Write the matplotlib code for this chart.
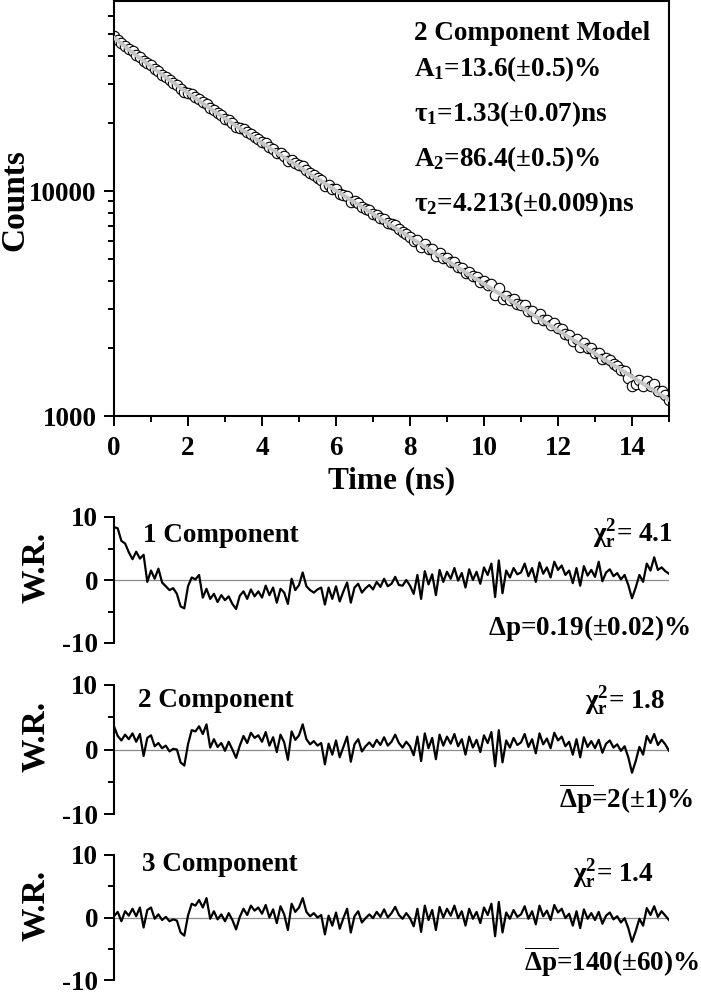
import numpy as np
import matplotlib
matplotlib.use("Agg")
import matplotlib.pyplot as plt
from matplotlib.ticker import FixedLocator, NullFormatter

plt.rcParams['font.family'] = ['Liberation Serif', 'DejaVu Serif']
plt.rcParams['font.weight'] = 'bold'
plt.rcParams['axes.labelweight'] = 'bold'
plt.rcParams['axes.unicode_minus'] = False
plt.rcParams['mathtext.fontset'] = 'custom'
plt.rcParams['mathtext.rm'] = 'Liberation Serif:bold'
plt.rcParams['mathtext.it'] = 'Liberation Serif:bold'
plt.rcParams['mathtext.bf'] = 'Liberation Serif:bold'

# time grid of the decay (ns)
time_ns = np.linspace(0.0, 15.0, 151)
fit_time = np.linspace(0.0, 15.0, 31)

# measured counts, one every 0.1 ns
counts = [
    48756, 47021, 45494, 44343, 42906, 41819, 40387, 39495, 37705, 37190,
    36194, 34903, 34044, 32971, 32142, 31109, 30352, 29530, 28410, 27565,
    27380, 27035, 26305, 25755, 24910, 24507, 23348, 22953, 22198, 21725,
    21003, 20680, 19998, 19320, 19098, 18826, 18219, 17984, 17441, 17067,
    16524, 16313, 15659, 15439, 14787, 14751, 14256, 13596, 13777, 13299,
    13058, 12938, 12379, 11996, 11763, 11409, 11179, 10570, 10643, 10218,
    10195, 9697, 9621, 9547, 8949, 8991, 8853, 8470, 8342, 8199,
    7942, 7852, 7598, 7522, 7236, 7116, 7040, 6770, 6554, 6471,
    6265, 6009, 6089, 5658, 5846, 5541, 5527, 5159, 5308, 5065,
    5046, 4852, 4841, 4600, 4565, 4302, 4382, 4171, 4150, 3933,
    4002, 3836, 3850, 3443, 3692, 3316, 3433, 3290, 3298, 3159,
    3108, 3106, 2928, 2923, 2738, 2837, 2684, 2667, 2530, 2590,
    2472, 2443, 2316, 2295, 2148, 2209, 2030, 2121, 2005, 1997,
    1904, 1914, 1786, 1802, 1781, 1695, 1675, 1596, 1586, 1482,
    1358, 1391, 1440, 1361, 1435, 1364, 1383, 1291, 1289, 1235,
    1172,
]

# 2 component fit, one every 0.5 ns
fit_counts = [
    48000, 41314, 35787, 31162, 27250, 23907, 21032, 18540, 16370, 14474,
    12809, 11345, 10055, 8915, 7907, 7016, 6226, 5526, 4906, 4355,
    3866, 3433, 3048, 2707, 2404, 2135, 1895, 1683, 1495, 1328, 1179,
]

# weighted residuals
wr_1comp = [
    8.4, 8.2, 6.2, 5.8, 4.4, 3.3, 4.5, 3.4, 4.0, -0.3,
    1.5, 0.2, 1.8, -0.4, -1.0, -1.6, -1.3, -2.2, -4.2, -4.5,
    -1.0, 0.4, 0.1, 0.8, -2.8, -1.4, -3.0, -2.2, -3.5, -2.4,
    -3.2, -2.6, -3.8, -4.6, -2.5, -1.8, -3.0, -1.5, -2.6, -1.8,
    -2.8, -0.9, -2.4, -1.2, -3.6, -1.4, -2.0, -3.8, 0.2, -1.6,
    -0.8, 1.2, -1.0, -1.6, -2.0, -1.5, -1.2, -3.9, -1.2, -3.0,
    -1.0, -3.4, -1.8, -0.4, -3.6, -1.2, -0.6, -2.0, -1.3, -0.8,
    -1.5, -0.3, -1.1, 0.2, -1.0, -0.6, 0.5, -0.8, -0.9, 0.0,
    -0.9, -2.2, 0.8, -3.0, 1.4, -0.7, 0.9, -2.4, 1.6, -0.3,
    1.3, 0.2, 1.9, -0.1, 1.1, -1.2, 1.7, 0.0, 1.3, -0.6,
    2.0, 0.8, 2.6, -2.7, 3.1, -2.1, 1.5, 0.4, 1.9, 0.9,
    1.2, 2.6, 0.6, 1.9, -0.3, 2.8, 1.0, 2.0, 0.4, 2.9,
    1.6, 2.3, 0.8, 1.5, -0.5, 1.9, -0.9, 2.2, 0.7, 1.6,
    0.5, 2.9, -0.2, 1.2, 1.7, 0.6, 1.1, 0.1, 0.8, -0.8,
    -2.9, -1.2, 0.8, -0.3, 2.6, 1.5, 3.6, 1.6, 2.0, 1.4,
    1.0,
]
wr_2comp = [
    3.6, 2.1, 1.4, 2.3, 1.6, 2.5, 1.2, 2.4, -1.0, 1.8,
    2.2, 0.5, 1.0, 0.2, 0.6, -0.3, 0.1, 0.0, -2.0, -2.5,
    0.8, 3.0, 2.8, 3.6, 2.4, 3.9, 0.3, 1.6, 0.4, 1.0,
    -0.2, 1.2, 0.0, -1.3, 0.6, 2.1, 1.0, 2.6, 1.8, 2.2,
    1.2, 2.7, 0.6, 1.9, -0.4, 2.3, 1.1, -1.6, 2.8, 1.5,
    2.2, 3.9, 1.6, 0.8, 1.3, 0.6, 1.0, -2.3, 0.9, -0.8,
    1.4, -1.2, 0.4, 2.0, -1.9, 0.8, 1.6, -0.3, 0.5, 1.1,
    0.4, 1.5, 0.7, 1.9, 0.6, 1.2, 2.3, 1.0, 0.3, 1.2,
    0.5, -0.9, 2.0, -1.8, 2.5, 0.2, 1.8, -1.5, 2.3, 0.6,
    2.0, 0.9, 2.4, 0.5, 1.6, -0.8, 2.0, 0.3, 1.5, -0.4,
    2.2, 1.0, 2.7, -2.6, 3.0, -2.0, 1.4, 0.3, 1.8, 0.7,
    1.1, 2.4, 0.4, 1.6, -0.6, 2.5, 0.8, 1.7, 0.2, 2.6,
    1.4, 2.0, 0.5, 1.2, -0.8, 1.6, -1.2, 1.9, 0.4, 1.3,
    0.2, 1.5, -0.5, 0.9, 1.4, 0.3, 0.8, -0.2, 0.5, -1.2,
    -3.6, -1.8, 0.4, -0.8, 2.1, 1.0, 2.4, 0.7, 1.5, 0.8,
    -0.2,
]
wr_3comp = [
    0.2, 0.9, -0.6, 1.0, 0.3, 1.4, 0.2, 1.6, -1.6, 1.2,
    1.6, -0.2, 0.5, -0.4, 0.1, -0.6, -0.3, -0.5, -2.4, -2.9,
    0.3, 2.2, 1.9, 2.8, 1.6, 3.1, -0.2, 1.0, -0.3, 0.5,
    -0.6, 0.7, -0.4, -1.9, 0.1, 1.4, 0.4, 1.9, 1.1, 1.6,
    0.6, 2.0, 0.0, 1.3, -0.9, 1.8, 0.5, -2.0, 2.2, 0.9,
    1.6, 3.1, 0.9, 0.2, 0.7, 0.0, 0.4, -2.7, 0.3, -1.3,
    0.8, -1.8, -0.1, 1.4, -2.4, 0.2, 1.0, -0.8, -0.1, 0.5,
    -0.1, 0.9, 0.1, 1.3, 0.0, 0.7, 1.7, 0.4, -0.2, 0.7,
    -0.1, -1.4, 1.4, -2.3, 1.9, -0.4, 1.2, -2.0, 1.7, 0.0,
    1.4, 0.3, 1.9, -0.1, 1.0, -1.3, 1.4, -0.2, 0.9, -0.9,
    1.6, 0.4, 2.2, -3.0, 2.5, -2.4, 0.8, -0.2, 1.2, 0.1,
    0.5, 1.8, -0.2, 1.0, -1.1, 1.9, 0.2, 1.1, -0.4, 2.0,
    0.8, 1.4, -0.1, 0.6, -1.3, 1.0, -1.7, 1.3, -0.2, 0.7,
    -0.4, 0.9, -1.0, 0.3, 0.8, -0.3, 0.2, -0.8, -0.1, -1.7,
    -3.9, -2.2, -0.2, -1.3, 1.5, 0.4, 1.8, 0.1, 1.0, 0.3,
    -0.4,
]

model_lines = [
    r'2 Component Model',
    r'A$_1$=13.6(±0.5)%',
    r'τ$_1$=1.33(±0.07)ns',
    r'A$_2$=86.4(±0.5)%',
    r'τ$_2$=4.213(±0.009)ns',
]
comp_labels = ['1 Component', '2 Component', '3 Component']
chi_labels = [r'χ$^2_r$= 4.1', r'χ$^2_r$= 1.8', r'χ$^2_r$= 1.4']
dp_labels = [r'$\Delta$p=0.19(±0.02)%', r'$\overline{\Delta p}$=2(±1)%',
             r'$\overline{\Delta p}$=140(±60)%']

W, H = 701, 994


def fx(px):
    return px / W


def fy(py):
    return 1 - py / H


def main():
    fig = plt.figure(figsize=(7.01, 9.94), dpi=100)

    # decay panel
    ax = fig.add_axes([fx(114), fy(416), fx(669) - fx(114), fy(1) - fy(416)])
    ax.plot(time_ns, counts, 'o', ms=7.5, mfc='white', mec='black', mew=0.8, zorder=2)
    ax.plot(fit_time, fit_counts, color='#c4c4c4', lw=2.8, zorder=3)
    ax.set_yscale('log')
    ax.set_xlim(0, 15)
    ax.set_ylim(1000, 70000)
    ax.xaxis.set_major_locator(FixedLocator([0, 2, 4, 6, 8, 10, 12, 14]))
    ax.xaxis.set_minor_locator(FixedLocator([1, 3, 5, 7, 9, 11, 13, 15]))
    ax.yaxis.set_major_locator(FixedLocator([1000, 10000]))
    ax.yaxis.set_minor_locator(FixedLocator([2000, 3000, 4000, 5000, 6000, 7000, 8000, 9000,
                                             20000, 30000, 40000, 50000, 60000]))
    ax.yaxis.set_minor_formatter(NullFormatter())
    ax.set_yticklabels(['1000', '10000'])
    ax.tick_params(which='major', length=7.5, width=1.4, labelsize=19.5, pad=5)
    ax.tick_params(which='minor', length=4, width=1.4)
    ax.tick_params(axis='x', which='major', pad=7)
    for s in ax.spines.values():
        s.set_linewidth(1.5)
    ax.set_xlabel('Time (ns)', fontsize=22.5, labelpad=4)
    ax.set_ylabel('Counts', fontsize=24)
    ax.yaxis.set_label_coords(-0.150, 0.52)

    base = [40, 76, 121, 166, 211]
    for line, b in zip(model_lines, base):
        ax.text(0.5405, (416 - b) / 415, line, transform=ax.transAxes,
                fontsize=19.5, va='baseline', ha='left')

    # residual panels
    panels = [(517, 643), (685, 814), (855, 980)]
    residuals = [wr_1comp, wr_2comp, wr_3comp]
    comp_pos = [(143, 542), (138, 707), (142, 871)]
    chi_pos = [(673, 541), (665, 708), (654, 881)]
    dp_pos = [(690, 635), (693, 808), (699, 971)]
    for i, (top, bot) in enumerate(panels):
        rax = fig.add_axes([fx(114), fy(bot), fx(669) - fx(114), fy(top) - fy(bot)])
        rax.axhline(0, color='#8c8c8c', lw=0.9, zorder=1)
        rax.plot(time_ns, residuals[i], color='black', lw=1.6, zorder=2)
        rax.set_xlim(0, 15)
        rax.set_ylim(-10, 10)
        rax.yaxis.set_major_locator(FixedLocator([-10, 0, 10]))
        rax.yaxis.set_minor_locator(FixedLocator([-5, 5]))
        rax.tick_params(axis='y', which='major', length=7.5, width=1.4, labelsize=19.5, pad=4)
        rax.tick_params(axis='y', which='minor', length=4, width=1.4)
        rax.tick_params(axis='x', which='both', bottom=False, labelbottom=False)
        for side in ['top', 'right', 'bottom']:
            rax.spines[side].set_visible(False)
        rax.spines['left'].set_linewidth(1.5)
        rax.patch.set_alpha(0)
        rax.set_ylabel('W.R.', fontsize=24)
        rax.yaxis.set_label_coords(-0.113, 0.6)

        fig.text(fx(comp_pos[i][0]), fy(comp_pos[i][1]), comp_labels[i],
                 fontsize=19.5, ha='left', va='baseline')
        fig.text(fx(chi_pos[i][0]), fy(chi_pos[i][1]), chi_labels[i],
                 fontsize=19.5, ha='right', va='baseline')
        fig.text(fx(dp_pos[i][0]), fy(dp_pos[i][1]), dp_labels[i],
                 fontsize=19.5, ha='right', va='baseline')

    fig.savefig('out.png', dpi=100)


if __name__ == "__main__":
    main()
